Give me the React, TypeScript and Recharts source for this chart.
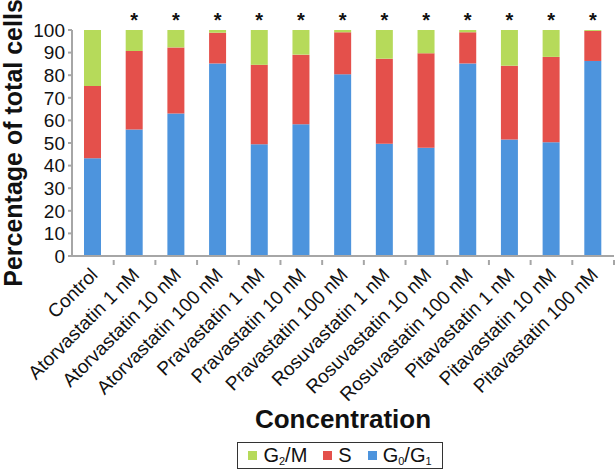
import { Bar, BarChart, Label, LabelList, XAxis, YAxis } from "recharts";

const categories = [
  "Control",
  "Atorvastatin 1 nM",
  "Atorvastatin 10 nM",
  "Atorvastatin 100 nM",
  "Pravastatin 1 nM",
  "Pravastatin 10 nM",
  "Pravastatin 100 nM",
  "Rosuvastatin 1 nM",
  "Rosuvastatin 10 nM",
  "Rosuvastatin 100 nM",
  "Pitavastatin 1 nM",
  "Pitavastatin 10 nM",
  "Pitavastatin 100 nM",
];

const g0g1 = [43.2, 56, 63.1, 85.2, 49.4, 58.3, 80.4, 49.7, 47.9, 85.2, 51.5, 50.3, 86.3];
const sPhase = [32, 34.7, 29.2, 13.6, 35.2, 30.8, 18.6, 37.6, 41.8, 13.8, 32.7, 37.8, 13.3];
const g2m = [24.8, 9.3, 7.7, 1.2, 15.4, 10.9, 1.0, 12.7, 10.3, 1.0, 15.8, 11.9, 0.4];
const significant = [false, true, true, true, true, true, true, true, true, true, true, true, true];
const yTicks = [0, 10, 20, 30, 40, 50, 60, 70, 80, 90, 100];

const data = categories.map((name, i) => ({
  name,
  g0g1: g0g1[i],
  s: sPhase[i],
  g2m: g2m[i],
  star: significant[i] ? "*" : "",
}));

const FONT = '"Liberation Sans", Arial, sans-serif';
const AXIS = "#a6a6a6";
const BAND = 542 / categories.length;

const colors = { g2m: "#b6da5a", s: "#e4504b", g0g1: "#4d94dd" };

function XTick({ x, y, payload }: { x?: number; y?: number; payload?: { value: string } }) {
  const tx = x! + 6;
  const ty = y! + 12;
  return (
    <g>
      <line x1={x! + BAND / 2} x2={x! + BAND / 2} y1={y! - 4} y2={y! + 1} stroke={AXIS} strokeWidth={2} />
      <text
        x={tx}
        y={ty}
        textAnchor="end"
        transform={`rotate(-45, ${tx}, ${ty})`}
        fontSize={19}
        fill="#111"
        fontFamily={FONT}
      >
        {payload!.value}
      </text>
    </g>
  );
}

function Star(props: { x?: number; y?: number; width?: number; value?: string }) {
  const { x = 0, y = 0, width = 0, value } = props;
  if (!value) return null;
  return (
    <text x={x + width / 2} y={y - 3} textAnchor="middle" fontSize={20} fontWeight="bold" fill="#111" fontFamily={FONT}>
      {value}
    </text>
  );
}

function Swatch({ color }: { color: string }) {
  return <span style={{ display: "inline-block", width: 9, height: 9, background: color, marginRight: 6 }} />;
}

export default function App() {
  return (
    <div style={{ position: "absolute", left: 0, top: 0, width: 615, height: 472, background: "#fff", fontFamily: FONT }}>
      <BarChart width={615} height={472} data={data} margin={{ top: 30, right: 1, left: 0, bottom: 40 }}>
        <XAxis
          dataKey="name"
          interval={0}
          height={176}
          axisLine={{ stroke: AXIS, strokeWidth: 2 }}
          tickLine={false}
          tick={<XTick />}
        >
          <Label
            value="Concentration"
            position="insideBottom"
            offset={4}
            style={{ fontSize: 26, fontWeight: "bold", fill: "#111", fontFamily: FONT }}
          />
        </XAxis>
        <YAxis
          width={72}
          domain={[0, 100]}
          ticks={yTicks}
          interval={0}
          axisLine={{ stroke: AXIS, strokeWidth: 2 }}
          tickLine={{ stroke: AXIS, strokeWidth: 2 }}
          tickSize={4}
          tickMargin={3}
          tick={{ fontSize: 19, fill: "#111", fontFamily: FONT }}
        >
          <Label
            value="Percentage of total cells"
            angle={-90}
            position="insideLeft"
            offset={13}
            style={{ fontSize: 25, fontWeight: "bold", fill: "#111", fontFamily: FONT, textAnchor: "middle" }}
          />
        </YAxis>
        <Bar dataKey="g0g1" stackId="a" fill={colors.g0g1} barSize={17} isAnimationActive={false} />
        <Bar dataKey="s" stackId="a" fill={colors.s} barSize={17} isAnimationActive={false} />
        <Bar dataKey="g2m" stackId="a" fill={colors.g2m} barSize={17} isAnimationActive={false}>
          <LabelList dataKey="star" content={<Star />} />
        </Bar>
      </BarChart>
      <div
        style={{
          position: "absolute",
          left: 237,
          top: 442,
          width: 204,
          height: 25,
          border: "1.5px solid #333",
          display: "flex",
          alignItems: "center",
          justifyContent: "center",
          gap: 16,
          fontSize: 20,
          color: "#111",
        }}
      >
        <span style={{ display: "flex", alignItems: "center" }}>
          <Swatch color={colors.g2m} />G<sub style={{ fontSize: 11, alignSelf: "flex-end" }}>2</sub>/M
        </span>
        <span style={{ display: "flex", alignItems: "center" }}>
          <Swatch color={colors.s} />S
        </span>
        <span style={{ display: "flex", alignItems: "center" }}>
          <Swatch color={colors.g0g1} />G<sub style={{ fontSize: 11, alignSelf: "flex-end" }}>0</sub>/G
          <sub style={{ fontSize: 11, alignSelf: "flex-end" }}>1</sub>
        </span>
      </div>
    </div>
  );
}
